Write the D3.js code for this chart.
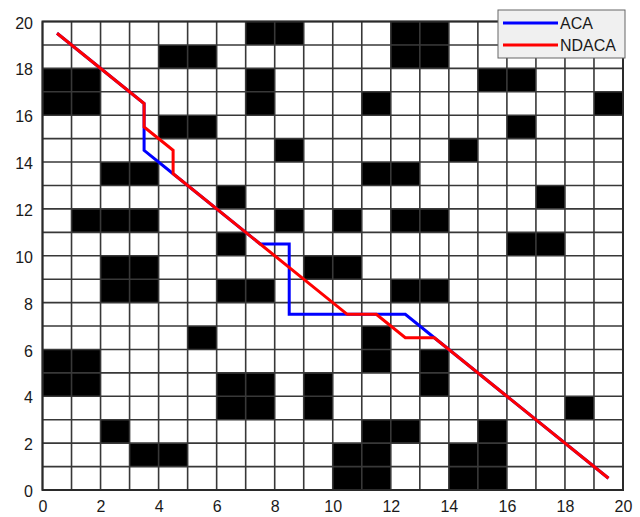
<!DOCTYPE html>
<html>
<head>
<meta charset="utf-8">
<script src="https://cdn.jsdelivr.net/npm/d3@7"></script>
<style>
	body { margin: 0; background: #fff; }
	text { font-family: "Liberation Sans", Arial, sans-serif; fill: #1a1a1a; }
</style>
</head>
<body>
<div id="container"></div>
<script>
// obstacle cells [col, row]: cell covers x col..col+1, y row..row+1
const obstacles = [
	[7,19],[8,19],[12,19],[13,19],
	[4,18],[5,18],[12,18],[13,18],
	[0,17],[1,17],[7,17],[15,17],[16,17],
	[0,16],[1,16],[7,16],[11,16],[19,16],
	[4,15],[5,15],[16,15],
	[8,14],[14,14],
	[2,13],[3,13],[11,13],[12,13],
	[6,12],[17,12],
	[1,11],[2,11],[3,11],[8,11],[10,11],[12,11],[13,11],
	[6,10],[16,10],[17,10],
	[2,9],[3,9],[9,9],[10,9],
	[2,8],[3,8],[6,8],[7,8],[12,8],[13,8],
	[5,6],[11,6],
	[0,5],[1,5],[11,5],[13,5],
	[0,4],[1,4],[6,4],[7,4],[9,4],[13,4],
	[6,3],[7,3],[9,3],[18,3],
	[2,2],[11,2],[12,2],[15,2],
	[3,1],[4,1],[10,1],[11,1],[14,1],[15,1],
	[10,0],[11,0],[14,0],[15,0]
];

const acaPath = [[0.5,19.5],[3.5,16.5],[3.5,14.5],[4.5,13.5],[7.5,10.5],[8.5,10.5],[8.5,7.5],[12.5,7.5],[13.5,6.5],[19.5,0.5]];
const ndacaPath = [[0.5,19.5],[3.5,16.5],[3.5,15.5],[4.5,14.5],[4.5,13.5],[10.5,7.5],[11.5,7.5],[12.5,6.5],[13.5,6.5],[19.5,0.5]];

const seriesNames = ["ACA", "NDACA"];
const seriesColors = ["#0000ff", "#ff0000"];

const gridLines = [0,1,2,3,4,5,6,7,8,9,10,11,12,13,14,15,16,17,18,19,20];
const tickValues = [0,2,4,6,8,10,12,14,16,18,20];

const w = 640;
const h = 517;
const margin = {top: 21.5, left: 42.5, bottom: 27, right: 17};

const svg = d3.select("#container").append("svg").attr("width", w).attr("height", h);

const xScale = d3.scaleLinear().domain([0, 20]).range([margin.left, w - margin.right]);
const yScale = d3.scaleLinear().domain([0, 20]).range([h - margin.bottom, margin.top]);

// white background of plot area
svg.append("rect")
	.attr("x", xScale(0)).attr("y", yScale(20))
	.attr("width", xScale(20) - xScale(0)).attr("height", yScale(0) - yScale(20))
	.attr("fill", "#fff");

// obstacle cells
svg.append("g").selectAll("rect")
	.data(obstacles)
	.enter()
	.append("rect")
		.attr("x", d => xScale(d[0]))
		.attr("y", d => yScale(d[1] + 1))
		.attr("width", d => xScale(d[0] + 1) - xScale(d[0]))
		.attr("height", d => yScale(d[1]) - yScale(d[1] + 1))
		.attr("fill", "#000");

// grid
const grid = svg.append("g").attr("stroke", "#383838").attr("stroke-width", 1.6);
grid.selectAll(".vline")
	.data(gridLines)
	.enter()
	.append("line")
		.attr("class", "vline")
		.attr("x1", d => xScale(d)).attr("x2", d => xScale(d))
		.attr("y1", yScale(0)).attr("y2", yScale(20));
grid.selectAll(".hline")
	.data(gridLines)
	.enter()
	.append("line")
		.attr("class", "hline")
		.attr("y1", d => yScale(d)).attr("y2", d => yScale(d))
		.attr("x1", xScale(0)).attr("x2", xScale(20));

// frame
svg.append("rect")
	.attr("x", xScale(0)).attr("y", yScale(20))
	.attr("width", xScale(20) - xScale(0)).attr("height", yScale(0) - yScale(20))
	.attr("fill", "none").attr("stroke", "#2a2a2a").attr("stroke-width", 2);

// paths
const line = d3.line().x(d => xScale(d[0])).y(d => yScale(d[1]));
[acaPath, ndacaPath].forEach((p, i) => {
	svg.append("path")
		.attr("d", line(p))
		.attr("fill", "none")
		.attr("stroke", seriesColors[i])
		.attr("stroke-width", 3)
		.attr("stroke-linejoin", "miter");
});

// tick labels
const xAxis = d3.axisBottom(xScale).tickValues(tickValues).tickSize(0).tickPadding(11);
const yAxis = d3.axisLeft(yScale).tickValues(tickValues).tickSize(0).tickPadding(9.5);
const xAxisGroup = svg.append("g").attr("transform", `translate(0, ${yScale(0)})`).call(xAxis);
const yAxisGroup = svg.append("g").attr("transform", `translate(${xScale(0)}, 1.5)`).call(yAxis);
[xAxisGroup, yAxisGroup].forEach(g => {
	g.select(".domain").remove();
	g.selectAll("text").attr("font-size", 16).attr("font-family", "Liberation Sans, Arial, sans-serif").attr("fill", "#1a1a1a");
});

// legend
const legend = svg.append("g").attr("id", "legend");
legend.append("rect")
	.attr("x", 498).attr("y", 10)
	.attr("width", 127).attr("height", 48)
	.attr("fill", "#f0f0f0").attr("stroke", "#666").attr("stroke-width", 1);
seriesNames.forEach((name, i) => {
	legend.append("line")
		.attr("x1", 503).attr("x2", 558)
		.attr("y1", 23 + i * 22).attr("y2", 23 + i * 22)
		.attr("stroke", seriesColors[i]).attr("stroke-width", 3);
	legend.append("text")
		.attr("x", 560).attr("y", 29 + i * 22)
		.attr("font-size", 16)
		.text(name);
});
</script>
</body>
</html>
